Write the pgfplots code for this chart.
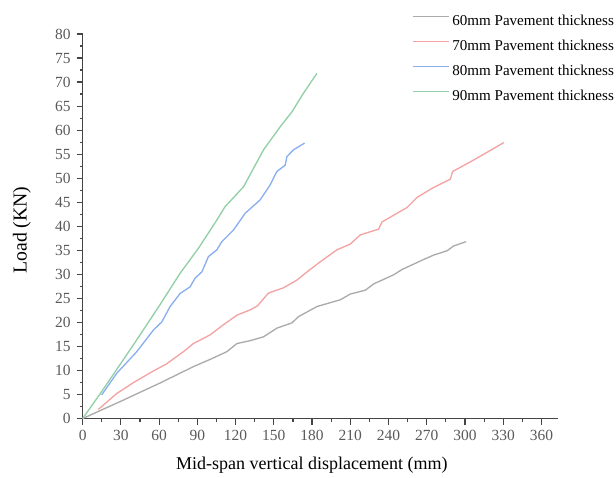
\documentclass[border=0pt]{standalone}
\usepackage{fontspec}
\setmainfont{Liberation Serif}
\usepackage{pgfplots}
\pgfplotsset{compat=1.18}
\definecolor{cgray}{HTML}{ABABAB}
\definecolor{cred}{HTML}{F3A3A3}
\definecolor{cblue}{HTML}{8AAEEF}
\definecolor{cgreen}{HTML}{93CFA6}
\definecolor{axgray}{HTML}{454545}
\definecolor{tkgray}{HTML}{5A5A5A}
\pgfplotsset{
  mylegline/.style={legend image code/.code={\draw[##1] (0pt,4pt) -- (27pt,4pt);}},
}
\begin{document}
\begin{tikzpicture}
\path[use as bounding box] (-62.0pt,-43.9pt) rectangle (400.0pt,313.9pt);
\begin{axis}[
  at={(0pt,0pt)}, anchor=south west,
  scale only axis, width=356.5pt, height=288.4pt,
  xmin=0, xmax=373, ymin=0, ymax=80,
  axis x line=bottom, axis y line=left,
  axis line style={-, draw=axgray, line width=0.9pt},
  xtick={0,30,...,360}, ytick={0,5,...,80},
  minor x tick num=1, minor y tick num=1,
  tick align=outside,
  major tick length=4.5pt, minor tick length=2.3pt,
  every tick/.style={draw=axgray, line width=0.9pt},
  /pgf/number format/assume math mode=true,
  ticklabel style={font=\fontsize{11.6pt}{13pt}\selectfont, text=tkgray},
  xticklabel style={yshift=-1pt},
  yticklabel style={xshift=-1pt},
  xlabel={Mid-span vertical displacement (mm)},
  ylabel={Load (KN)},
  xlabel style={font=\fontsize{13.5pt}{15pt}\selectfont, at={(axis description cs:0.482,-0.121)}, anchor=center},
  ylabel style={font=\fontsize{14.8pt}{16pt}\selectfont, at={(axis description cs:-0.128,0.49)}, anchor=center},
  legend style={draw=none, fill=none, at={(axis description cs:0.693,1.0557)}, anchor=north west,
    inner sep=0pt, row sep=5.35pt, column sep=0pt,
    font=\fontsize{11.3pt}{13pt}\selectfont},
  legend cell align=left,
  mylegline,
  clip=false,
]
\addplot[color=cgray, line width=1pt] coordinates {
(0,0) (30,3.6) (60,7.3) (86.9,10.8) (100,12.3) (113.1,13.9) (121,15.6) (131.4,16.2)
(141.9,17.0) (152.4,18.8) (164.2,19.9) (169.4,21.2) (183.8,23.3) (202.1,24.7) (210,25.9)
(221.8,26.7) (228.3,28.0) (244,29.9) (250.6,31.0) (267.6,33.1) (275.4,34.0) (285.9,34.9)
(291.1,35.9) (300.9,36.8)};
\addlegendentry{60mm Pavement thickness}
\addplot[color=cred, line width=1pt] coordinates {
(12.3,1.9) (26.7,5.2) (40,7.5) (54.2,9.7) (66,11.4) (79,13.9) (86.9,15.6) (100,17.4)
(110.4,19.5) (121,21.5) (131.4,22.6) (137,23.4) (145.8,26.1) (157.6,27.2) (168.1,28.8)
(176,30.5) (186.4,32.6) (199.5,35.1) (210,36.3) (217.8,38.2) (232.2,39.4) (234.9,40.9)
(244,42.3) (254.5,43.9) (262.4,46.0) (274.2,47.9) (288.5,49.8) (290.3,51.4) (304.2,53.4)
(317.4,55.4) (330.4,57.4)};
\addlegendentry{70mm Pavement thickness}
\addplot[color=cblue, line width=1pt] coordinates {
(14.9,4.9) (26.7,9.4) (42.4,13.9) (55.5,18.4) (62.1,20.1) (68.6,23.3) (76.4,26.0)
(84.3,27.4) (88.2,29.2) (93.5,30.5) (98.7,33.7) (105.3,35.1) (109.2,36.8) (118.3,39.2)
(127.5,42.7) (139.3,45.5) (147.1,48.6) (152.4,51.4) (158.9,52.7) (160.3,54.5)
(165.4,55.9) (174.1,57.3)};
\addlegendentry{80mm Pavement thickness}
\addplot[color=cgreen, line width=1pt] coordinates {
(0,0) (14.9,5.6) (40,15.4) (60,23.4) (76.4,30.2) (90.8,35.4) (105.3,41.3) (111.8,44.1)
(126.2,48.2) (141.9,55.9) (155.0,60.7) (164.2,63.8) (173.3,67.7) (183.8,71.8)};
\addlegendentry{90mm Pavement thickness}
\end{axis}
\end{tikzpicture}
\end{document}
